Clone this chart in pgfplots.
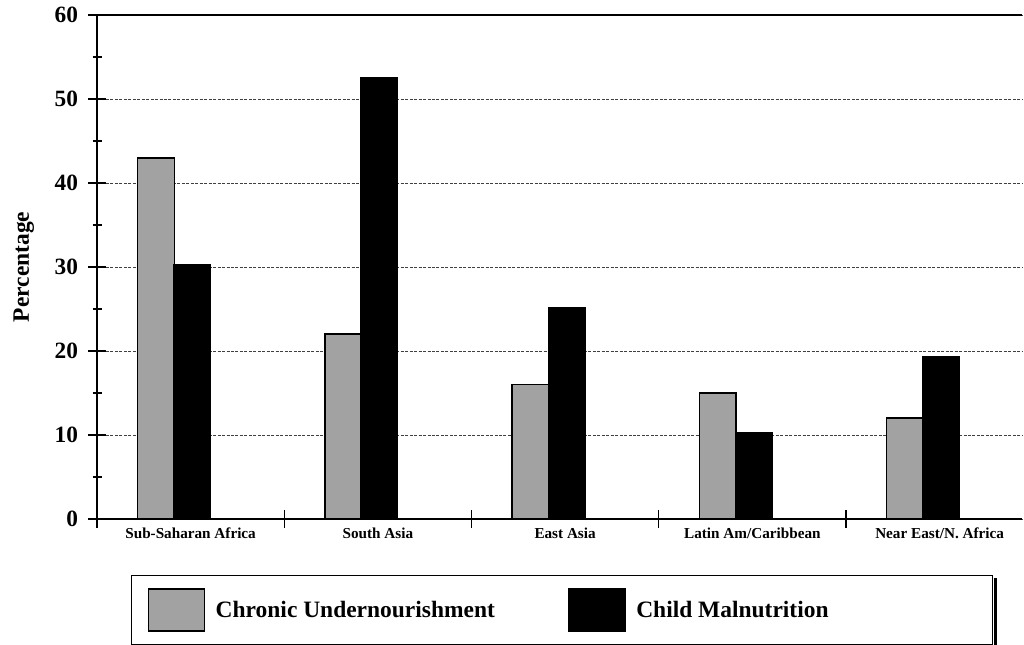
\documentclass[border=0pt]{standalone}
\usepackage{pgfplots}
\pgfplotsset{compat=1.18}
\usepackage{fontspec}
\setmainfont{Liberation Serif}
\definecolor{barGrey}{RGB}{162,162,162}
\begin{document}
\begin{tikzpicture}
\useasboundingbox (0,0) rectangle (768pt,483.75pt);
\begin{axis}[
  at={(72.75pt,94.5pt)}, anchor=south west,
  scale only axis, width=693.75pt, height=378pt,
  xmin=-0.5, xmax=4.44, ymin=0, ymax=60,
  axis x line*=box, axis y line*=left,
  axis line style={line width=1.1pt},
  xtick={-0.5,0.5,1.5,2.5,3.5}, xticklabels={},
  extra x ticks={0,1,2,3,4},
  extra x tick labels={Sub-Saharan Africa,South Asia,East Asia,Latin Am/Caribbean,Near East/N. Africa},
  extra x tick style={major tick length=0pt, grid=none},
  xtick pos=bottom,
  ytick={0,10,...,60}, minor y tick num=1,
  tick align=center,
  major tick length=13.5pt, minor tick length=6.75pt,
  every tick/.style={black, line width=1.1pt},
  ymajorgrids,
  major grid style={black!75, line width=0.7pt, dash pattern=on 2.25pt off 1.1pt},
  /pgf/number format/assume math mode=true,
  yticklabel style={font=\fontsize{17.5}{19}\selectfont\bfseries, xshift=-4pt},
  xticklabel style={font=\fontsize{11.4}{13}\selectfont\bfseries, yshift=-3pt},
  ylabel={Percentage},
  every axis y label/.style={at={(rel axis cs:0,0.5)}, xshift=-55pt, rotate=90, anchor=center, font=\fontsize{17.6}{20}\selectfont\bfseries},
  legend columns=2,
  legend style={name=legendbox, at={(rel axis cs:0.0368,-0.111)}, anchor=north west,
    draw=black, line width=1pt, inner xsep=12pt, inner ysep=9.5pt,
    font=\fontsize{17.6}{20}\selectfont\bfseries,
    nodes={inner sep=0pt},
    /tikz/every odd column/.append style={column sep=8pt},
    /tikz/every even column/.append style={column sep=55pt}},
  legend image code/.code={\draw[#1, line width=1pt] (0pt,-15.75pt) rectangle (42pt,15.75pt);},
]
\addplot[ybar, bar width=0.195, bar shift=-0.185, fill=barGrey, draw=black, line width=1.1pt]
  coordinates {(0,43) (1,22) (2,16) (3,15) (4,12)};
\addlegendentry{Chronic Undernourishment}
\addplot[ybar, bar width=0.195, bar shift=0.008, fill=black, draw=black, line width=1.1pt]
  coordinates {(0,30.3) (1,52.5) (2,25.2) (3,10.3) (4,19.3)};
\addlegendentry{Child Malnutrition\hspace*{111pt}}
\end{axis}
\fill[black] ([shift={(2.5pt,-2.5pt)}]legendbox.south west) rectangle ([shift={(2.5pt,-0.5pt)}]legendbox.south east);
\fill[black] ([shift={(0.5pt,-2.5pt)}]legendbox.north east) rectangle ([shift={(2.5pt,-2.5pt)}]legendbox.south east);
\end{tikzpicture}
\end{document}
